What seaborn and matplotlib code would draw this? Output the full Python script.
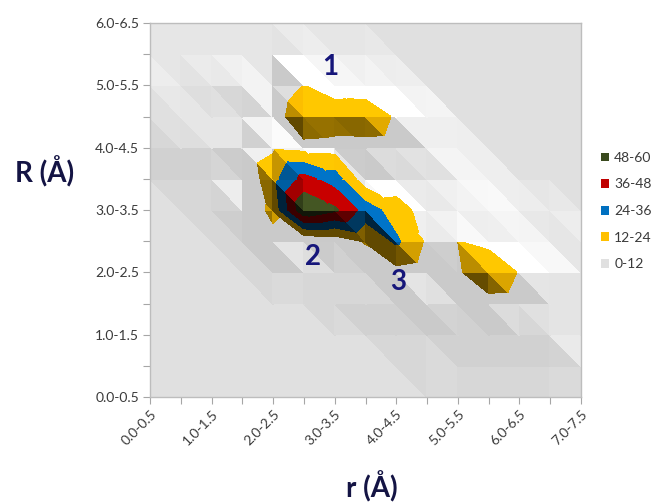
import numpy as np
import matplotlib
matplotlib.use("Agg")
import matplotlib.pyplot as plt
import matplotlib.tri as mtri
from matplotlib.patches import Patch
import seaborn as sns

# ---------------- data ----------------
r_labels = ["0.0-0.5", "0.5-1.0", "1.0-1.5", "1.5-2.0", "2.0-2.5", "2.5-3.0",
            "3.0-3.5", "3.5-4.0", "4.0-4.5", "4.5-5.0", "5.0-5.5", "5.5-6.0",
            "6.0-6.5", "6.5-7.0", "7.0-7.5"]
R_labels = ["0.0-0.5", "0.5-1.0", "1.0-1.5", "1.5-2.0", "2.0-2.5", "2.5-3.0",
            "3.0-3.5", "3.5-4.0", "4.0-4.5", "4.5-5.0", "5.0-5.5", "5.5-6.0",
            "6.0-6.5"]

# counts per R row (columns follow r_labels)
row_R60 = [0, 0, 0, 0, 0, 0, 0, 0, 0, 0, 0, 0, 0, 0, 0]
row_R55 = [1, 1, 1, 1, 1, 2, 1, 1, 0, 0, 0, 0, 0, 0, 0]
row_R50 = [3, 2, 3, 4, 2, 12, 5, 4, 2, 0, 0, 0, 0, 0, 0]
row_R45 = [3, 3, 3, 3, 5, 22, 20, 21, 10, 3, 0, 0, 0, 0, 0]
row_R40 = [2, 3, 4, 4, 10, 8, 7, 7, 6, 5, 2, 0, 0, 0, 0]
row_R35 = [0, 1, 2, 1, 20, 40, 30, 4, 5, 5, 5, 2, 0, 0, 0]
row_R30 = [0, 0, 1, 3, 15, 58, 50, 31, 17, 7, 8, 6, 2, 1, 0]
row_R25 = [0, 0, 0, 1, 8, 1, 4, 13, 26, 10, 12, 8, 5, 2, 2]
row_R20 = [0, 0, 0, 0, 1, 1, 2, 3, 8, 5, 10, 22, 11, 6, 3]
row_R15 = [0, 0, 0, 0, 0, 0, 1, 2, 3, 5, 5, 7, 6, 6, 3]
row_R10 = [0, 0, 0, 0, 0, 0, 0, 0, 1, 2, 3, 4, 5, 6, 3]
row_R05 = [0, 0, 0, 0, 0, 0, 0, 0, 0, 1, 1, 2, 3, 4, 4]
row_R00 = [0, 0, 0, 0, 0, 0, 0, 0, 0, 0, 0, 1, 2, 3, 3]

band_levels = [-1, 12, 24, 36, 48, 60]
band_labels = ["0-12", "12-24", "24-36", "36-48", "48-60"]
band_colors = ["#e0e0e0", "#ffc000", "#0070c0", "#c00000", "#3a4a1e"]

peak_labels = ["1", "2", "3"]
peak_r = [5.85, 5.3, 8.05]
peak_R = [10.6, 4.5, 3.7]

# ---------------- build surface ----------------
Z = np.array([row_R00, row_R05, row_R10, row_R15, row_R20, row_R25, row_R30,
              row_R35, row_R40, row_R45, row_R50, row_R55, row_R60], float)
nR, nr = Z.shape
xx, yy = np.meshgrid(np.arange(nr), np.arange(nR))
X = xx.ravel().astype(float)
Y = yy.ravel().astype(float)
V = Z.ravel()

def idx(i, j):
    return j * nr + i

tris = []
for j in range(nR - 1):
    for i in range(nr - 1):
        tris.append([idx(i, j), idx(i + 1, j), idx(i, j + 1)])
        tris.append([idx(i + 1, j), idx(i + 1, j + 1), idx(i, j + 1)])

# lighting
zscale = 0.05
az, el = np.radians(20), np.radians(55)
L = np.array([np.sin(az) * np.cos(el), np.cos(az) * np.cos(el), np.sin(el)])
I0 = np.sin(el)
k_range = [(0.9, 1.25), (0.38, 1.04), (0.3, 1.04), (0.3, 1.04), (0.3, 1.25)]

def to_rgb(c):
    return np.array(matplotlib.colors.to_rgb(c))

base_rgb = [to_rgb(c) for c in band_colors]

sns.set_theme(style="white")
plt.rcParams["font.family"] = ["Lato", "DejaVu Sans"]

fig = plt.figure(figsize=(6.58, 5.03), dpi=100)
ax = fig.add_axes([150 / 658, 1 - 397 / 503, 431 / 658, 374 / 503])

for t in tris:
    p = np.stack([X[t], Y[t], V[t] * zscale], axis=1)
    n = np.cross(p[1] - p[0], p[2] - p[0])
    if n[2] < 0:
        n = -n
    n = n / np.linalg.norm(n)
    I = max(0.0, float(n @ L))
    k = 1 + (I - I0)
    cols = [tuple(np.clip(c * np.clip(k, lo, hi), 0, 1))
            for c, (lo, hi) in zip(base_rgb, k_range)]
    tri_t = mtri.Triangulation(X[t], Y[t], [[0, 1, 2]])
    cs = ax.tricontourf(tri_t, V[t], levels=band_levels, colors=cols)
    cs.set_edgecolor("face")
    cs.set_linewidth(0.4)

ax.set_xlim(0, nr - 1)
ax.set_ylim(0, nR - 1)

ax.set_xticks(range(nr))
ax.set_xticklabels([lab if i % 2 == 0 else "" for i, lab in enumerate(r_labels)],
                   rotation=45, ha="right", rotation_mode="anchor")
ax.set_yticks(range(nR))
ax.set_yticklabels([lab if i % 2 == 0 else "" for i, lab in enumerate(R_labels)])
ax.tick_params(axis="both", which="major", length=5, width=0.8, color="#a6a6a6",
               labelsize=10, labelcolor="#3a3a3a", direction="out",
               bottom=True, left=True, pad=3)
for s in ax.spines.values():
    s.set_color("#bdbdbd")
    s.set_linewidth(1.0)

for lab, px, py in zip(peak_labels, peak_r, peak_R):
    ax.text(px, py, lab, ha="center", va="center", fontsize=20,
            fontweight="bold", color="#16167a")

fig.text(45 / 658, 1 - 172 / 503, "R (Å)", ha="center", va="center",
         fontsize=20, fontweight="bold", color="#141444")
fig.text(372 / 658, 1 - 487 / 503, "r (Å)", ha="center", va="center",
         fontsize=20, fontweight="bold", color="#141444")

handles = [Patch(facecolor=c, edgecolor="none", label=l)
           for c, l in zip(band_colors[::-1], band_labels[::-1])]
leg = fig.legend(handles=handles, loc="center left",
                 bbox_to_anchor=(601 / 658, 1 - 211 / 503), frameon=False,
                 fontsize=10, handlelength=0.6, handleheight=0.6,
                 handletextpad=0.35, labelspacing=1.05, borderpad=0,
                 borderaxespad=0)
for tx in leg.get_texts():
    tx.set_color("#3a3a3a")

fig.savefig("out.png", dpi=100, facecolor="white")
